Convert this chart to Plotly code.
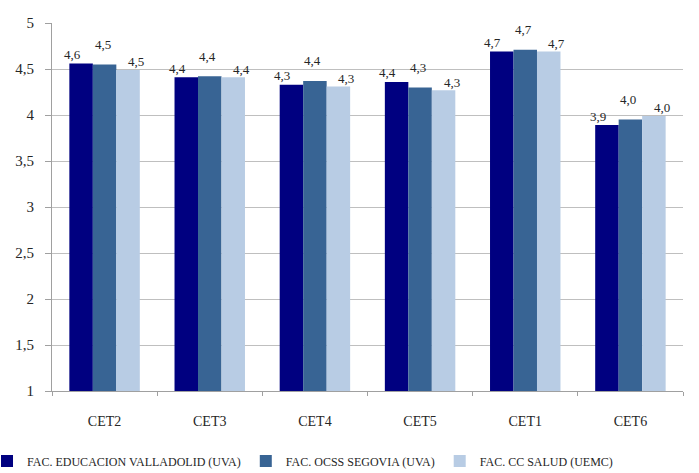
import plotly.graph_objects as go

# Categories and series (mean scores per competence)
categories = ["CET2", "CET3", "CET4", "CET5", "CET1", "CET6"]
series_names = [
    "FAC. EDUCACION VALLADOLID (UVA)",
    "FAC. OCSS SEGOVIA (UVA)",
    "FAC. CC SALUD (UEMC)",
]
educacion_valladolid = [4.56, 4.41, 4.33, 4.36, 4.69, 3.89]
ocss_segovia = [4.55, 4.42, 4.37, 4.30, 4.71, 3.95]
cc_salud = [4.49, 4.41, 4.31, 4.27, 4.69, 3.99]
y_ticks = [1, 1.5, 2, 2.5, 3, 3.5, 4, 4.5, 5]

series_values = [educacion_valladolid, ocss_segovia, cc_salud]
colors = ["#000080", "#386494", "#b8cce4"]
# label offsets (px) for each series: (xshift, yshift)
label_offsets = [(-9, 9), (-2, 20), (8, 8)]

serif = "Liberation Serif, Times New Roman, serif"
bargap = 0.33

fig = go.Figure()
for name, vals, col in zip(series_names, series_values, colors):
    fig.add_trace(go.Bar(
        x=categories, y=vals, name=name,
        marker=dict(color=col, line=dict(width=0)),
    ))

# value labels above every bar
n = len(series_values)
for i, (vals, (dx, dy)) in enumerate(zip(series_values, label_offsets)):
    for cat_idx, v in enumerate(vals):
        fig.add_annotation(
            x=cat_idx + (i - (n - 1) / 2) * (1 - bargap) / n,
            y=v, xref="x", yref="y",
            text=f"{v:.1f}".replace(".", ","),
            showarrow=False, xshift=dx, yshift=dy,
            font=dict(family=serif, size=13, color="#262626"),
        )

fig.update_layout(
    width=699, height=473,
    margin=dict(l=52, r=16, t=23, b=82, autoexpand=False),
    paper_bgcolor="white", plot_bgcolor="white",
    barmode="group", bargap=bargap, bargroupgap=0,
    separators=",.",
    showlegend=True,
    legend=dict(
        orientation="h", xref="paper", yref="paper",
        x=-0.103, xanchor="left", y=-0.19, yanchor="middle",
        font=dict(family=serif, size=12, color="#262626"),
        itemwidth=30, tracegroupgap=0,
        bgcolor="rgba(0,0,0,0)",
    ),
    font=dict(family=serif, color="#262626"),
)

fig.update_xaxes(
    type="category",
    showline=True, linecolor="#a0a0a0", linewidth=1,
    ticks="outside", tickson="boundaries", ticklen=4, tickcolor="#a0a0a0",
    tickfont=dict(family=serif, size=14, color="#262626"),
    ticklabelstandoff=17,
    showgrid=False,
)
fig.update_yaxes(
    range=[1, 5], tickvals=y_ticks,
    showline=True, linecolor="#a0a0a0", linewidth=1,
    ticks="outside", ticklen=6, tickcolor="#a0a0a0",
    showgrid=True, gridcolor="#bfbfbf", gridwidth=1,
    tickfont=dict(family=serif, size=15, color="#262626"),
    ticklabelstandoff=8,
    zeroline=False,
)

fig.write_html("out.html")
